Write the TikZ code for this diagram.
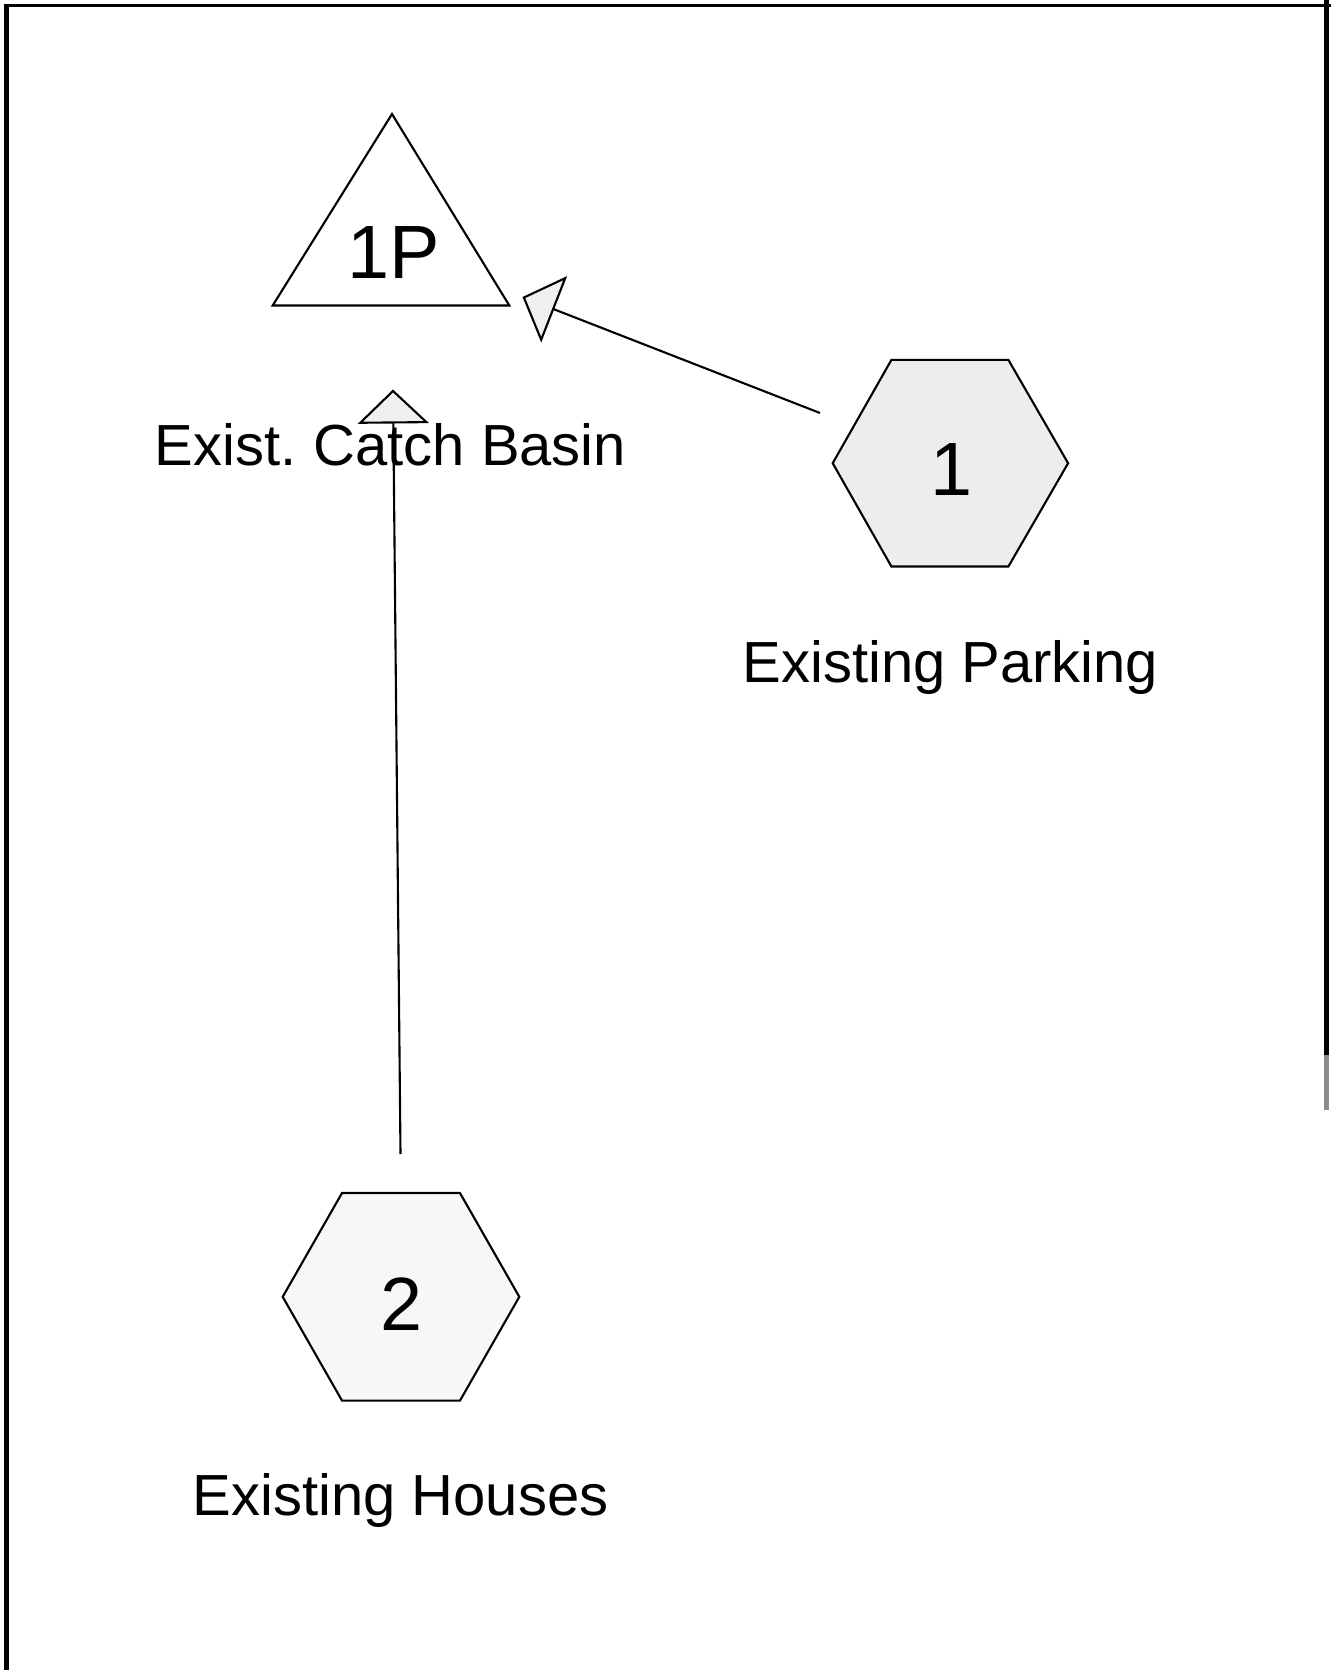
\documentclass[tikz,border=0pt]{standalone}
\usepackage{fontspec}
\setmainfont{Liberation Sans}
\usetikzlibrary{arrows.meta}
\begin{document}
\begin{tikzpicture}[x=0.02cm,y=-0.02cm,
  outline/.style={draw=black, line width=1.2pt, line join=miter},
  hexshape/.style={outline},
  flow/.style={draw=black, line width=1.2pt,
    -{Triangle[length=0.68cm,width=1.42cm,fill=black!6,line width=1.2pt]}},
  caption/.style={inner sep=0pt, anchor=base, font=\fontsize{33}{40}\selectfont},
  tag/.style={inner sep=0pt, anchor=base, font=\fontsize{43}{51}\selectfont},
]
\useasboundingbox (0,0) rectangle (1331,1670);

% page frame (open at the bottom right)
\draw[line width=1.7pt] (4,5.3) -- (1331,5.3);
\draw[line width=2.8pt] (6.7,4) -- (6.7,1670);
\draw[line width=2.8pt] (1326.8,0) -- (1326.8,1055);
\draw[line width=2.8pt, black!45] (1326.8,1055) -- (1326.8,1110);

% centres of the three elements
\coordinate (pond) at (391,210);
\coordinate (hex1) at (950.4,463.2);
\coordinate (hex2) at (401,1296.8);

% pond 1P: triangle
\draw[outline, fill=white] (392,114) -- (509.3,305.5) -- (272.7,305.5) -- cycle;

% subcatchments: hexagons
\draw[hexshape, fill=black!7, shift={(hex1)}]
  (-117.7,0) -- (-59,-103.3) -- (58,-103.3) -- (117.7,0) -- (58,103.3) -- (-59,103.3) -- cycle;
\draw[hexshape, fill=black!3, shift={(hex2)}]
  (-118.3,0) -- (-59,-103.8) -- (59,-103.8) -- (118.3,0) -- (59,103.8) -- (-59,103.8) -- cycle;

% identifiers
\node[tag] (t1p) at (393.4,278) {1P};
\node[tag] (t1) at (951,495) {1};
\node[tag] (t2) at (401.5,1330) {2};

% descriptions
\node[caption] (l1p) at (390.5,465.5) {Exist.\hspace{-0.08em} Catch Basin};
\node[caption] (l1) at (950.4,682) {Existing Parking};
\node[caption] (l2) at (400.5,1515) {Existing Houses};

% flow routing
\coordinate (f1s) at (820,413);
\coordinate (f1e) at (522.5,297);
\coordinate (f2s) at (400.5,1154);
\coordinate (f2e) at (393,389.5);
\draw[flow] (f1s) -- (f1e);
\draw[flow] (f2s) -- (f2e);
\end{tikzpicture}
\end{document}
